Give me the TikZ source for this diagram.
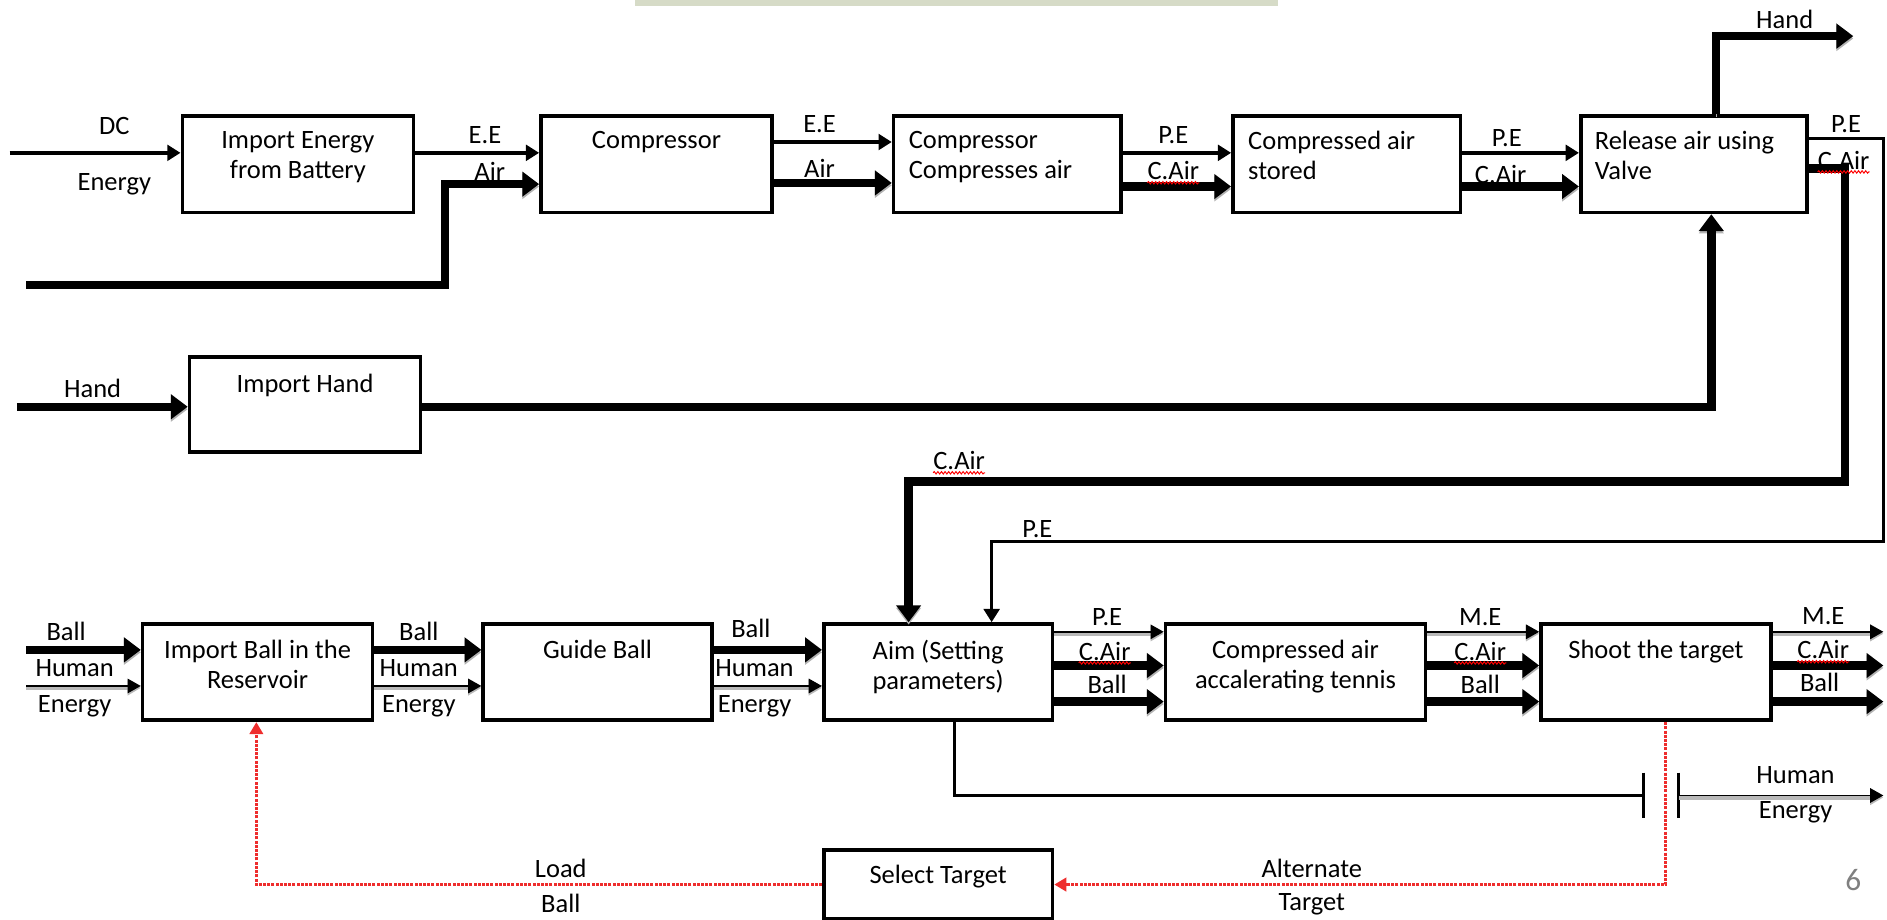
\documentclass[tikz,border=0pt]{standalone}
\usepackage{fontspec}
\setmainfont{Carlito}
\usetikzlibrary{positioning}
\usetikzlibrary{arrows.meta}
\usetikzlibrary{decorations.pathmorphing}

\definecolor{barcol}{RGB}{214,219,199}
\definecolor{loopred}{RGB}{238,45,45}

\tikzset{
	blk/.style={draw, line width=3pt, minimum width=192pt, minimum height=80pt, inner sep=0pt, anchor=north west},
	txt/.style={font=\fontsize{22}{25}\selectfont, inner sep=0pt, align=center},
	lbl/.style={font=\fontsize{22}{25}\selectfont, inner sep=0pt},
	thinarr/.style={line width=2.8pt, -{Triangle[length=11pt,width=13pt]}},
	thickarr/.style={line width=7pt, -{Triangle[length=14pt,width=20pt]},
		preaction={draw=gray!60, transform canvas={yshift=-2pt}}},
	humarr/.style={line width=1.4pt, -{Triangle[length=11pt,width=12pt]},
		preaction={draw=gray!55, line width=3.5pt, transform canvas={yshift=-1.6pt}}},
	loopline/.style={draw=loopred, line width=3pt, dash pattern=on 2.5pt off 1pt, -{Triangle[length=10pt,width=11pt]}},
	squig/.style={draw=red, line width=0.8pt, decorate, decoration={snake, amplitude=1pt, segment length=3pt}}
}

\begin{document}
\begin{tikzpicture}[x=1pt, y=-1pt]

	\useasboundingbox (0,0) rectangle (1568,764);
	\fill[barcol] (528,0) rectangle (1062,5);

	% blocs du haut
	\node[blk] (imp) at (150,95) {};
	\node[blk] (comp) at (448,95) {};
	\node[blk, minimum width=189pt] (ccomp) at (741,95) {};
	\node[blk, minimum width=189pt] (stor) at (1023,95) {};
	\node[blk, minimum width=188pt] (valve) at (1312,95) {};
	\node[blk, minimum height=79pt] (hand) at (156,295) {};

	\node[txt, below=14pt of imp.north] (imptxt) {Import Energy\\from Battery};
	\node[txt, below=14pt of comp.north] (comptxt) {Compressor};
	\node[txt, align=left, below right=14pt and 14pt of ccomp.north west] (ccomptxt) {Compressor\\Compresses air};
	\node[txt, align=left, below right=14pt and 14pt of stor.north west] (stortxt) {Compressed air\\stored};
	\node[txt, align=left, below right=14pt and 13pt of valve.north west] (valvetxt) {Release air using\\Valve};
	\node[txt, below=16pt of hand.north] (handtxt) {Import Hand};

	% blocs du bas
	\node[blk, minimum width=191pt] (ball) at (117,517) {};
	\node[blk, minimum width=190pt] (guide) at (400,517) {};
	\node[blk, minimum width=190pt] (aim) at (683,517) {};
	\node[blk, minimum width=216pt] (accel) at (967,517) {};
	\node[blk, minimum width=191pt] (shoot) at (1279,517) {};
	\node[blk, minimum width=190pt, minimum height=57pt] (sel) at (683,705) {};

	\node[txt, below=15pt of ball.north] (balltxt) {Import Ball in the\\Reservoir};
	\node[txt, below=15pt of guide.north] (guidetxt) {Guide Ball};
	\node[txt, below=15pt of aim.north] (aimtxt) {Aim (Setting\\parameters)};
	\node[txt, below=15pt of accel.north] (acceltxt) {Compressed air\\accalerating tennis};
	\node[txt, below=15pt of shoot.north] (shoottxt) {Shoot the target};
	\node[txt, below=14pt of sel.north] (seltxt) {Select Target};

	% fleches du haut
	\coordinate (dcin) at (8,127);
	\coordinate (airin) at (22,237);
	\coordinate (handin) at (14,338);
	\coordinate (handout) at (1540,30);
	\draw[thinarr] (dcin) -- (dcin -| imp.west);
	\draw[thinarr] (imp.east |- 0,127) -- (comp.west |- 0,127);
	\draw[thickarr] (airin) -- (370,237) -- (370,153) -- (comp.west |- 0,153);
	\draw[thinarr] (comp.east |- 0,118) -- (ccomp.west |- 0,118);
	\draw[thickarr] (comp.east |- 0,152) -- (ccomp.west |- 0,152);
	\draw[thinarr] (ccomp.east |- 0,127) -- (stor.west |- 0,127);
	\draw[thickarr] (ccomp.east |- 0,155) -- (stor.west |- 0,155);
	\draw[thinarr] (stor.east |- 0,127) -- (valve.west |- 0,127);
	\draw[thickarr] (stor.east |- 0,155) -- (valve.west |- 0,155);
	\draw[thickarr] (valve.north -| 1426,0) |- (handout);
	\draw[thickarr] (handin) -- (hand.west |- handin);
	\draw[thickarr] (hand.east |- handin) -| (valve.south -| 1422,0);

	% retours vers Aim
	\draw[thinarr] (valve.east |- 0,115) -| (1565,450) -| (aim.north -| 824,0);
	\draw[thickarr] (valve.east |- 0,140) -| (1533,400) -| (aim.north -| 755,0);

	% fleches du bas
	\coordinate (ballin) at (22,540);
	\coordinate (humin) at (22,570);
	\draw[thickarr] (ballin) -- (ball.west |- ballin);
	\draw[humarr] (humin) -- (ball.west |- humin);
	\draw[thickarr] (ball.east |- ballin) -- (guide.west |- ballin);
	\draw[humarr] (ball.east |- humin) -- (guide.west |- humin);
	\draw[thickarr] (guide.east |- ballin) -- (aim.west |- ballin);
	\draw[humarr] (guide.east |- humin) -- (aim.west |- humin);

	\draw[humarr] (aim.east |- 0,525) -- (accel.west |- 0,525);
	\draw[thickarr] (aim.east |- 0,553) -- (accel.west |- 0,553);
	\draw[thickarr] (aim.east |- 0,583) -- (accel.west |- 0,583);
	\draw[humarr] (accel.east |- 0,525) -- (shoot.west |- 0,525);
	\draw[thickarr] (accel.east |- 0,553) -- (shoot.west |- 0,553);
	\draw[thickarr] (accel.east |- 0,583) -- (shoot.west |- 0,583);
	\coordinate (meout) at (1565,525);
	\coordinate (cairout) at (1565,553);
	\coordinate (ballout) at (1565,583);
	\draw[humarr] (shoot.east |- meout) -- (meout);
	\draw[thickarr] (shoot.east |- cairout) -- (cairout);
	\draw[thickarr] (shoot.east |- ballout) -- (ballout);

	% energie humaine
	\coordinate (stopa) at (1366,661);
	\coordinate (stopb) at (1395,661);
	\coordinate (humout) at (1565,661);
	\draw[line width=2.5pt] (aim.south -| 793,0) |- (stopa);
	\draw[line width=2.5pt] ([yshift=19pt]stopa) -- ([yshift=-19pt]stopa);
	\draw[line width=2.5pt] ([yshift=19pt]stopb) -- ([yshift=-19pt]stopb);
	\draw[humarr] (stopb) -- (humout);

	% boucle rouge
	\draw[loopline] (shoot.south -| 1384,0) |- (sel.east);
	\draw[loopline] (sel.west) -| (ball.south -| 213,0);

	% etiquettes
	\node[lbl] (dc) at (95,105) {DC};
	\node[lbl] (dcen) at (95,153) {Energy};
	\node[lbl] (ee1) at (403,112) {E.E};
	\node[lbl] (air1) at (407,142) {Air};
	\node[lbl] (ee2) at (681,103) {E.E};
	\node[lbl] (air2) at (681,140) {Air};
	\node[lbl] (pe1) at (975,112) {P.E};
	\node[lbl] (cair1) at (975,142) {C.Air};
	\node[lbl] (pe2) at (1252,115) {P.E};
	\node[lbl] (cair2) at (1247,145) {C.Air};
	\node[lbl] (handlbl) at (1483,16) {Hand};
	\node[lbl] (pe3) at (1534,103) {P.E};
	\node[lbl] (cair3) at (1532,133) {C.Air};
	\node[lbl] (cair4) at (797,383) {C.Air};
	\node[lbl] (pe4) at (862,440) {P.E};
	\node[lbl] (handinlbl) at (77,323) {Hand};

	\node[lbl] (ball1) at (55,525) {Ball};
	\node[lbl] (hum1) at (62,555) {Human};
	\node[lbl] (en1) at (62,587) {Energy};
	\node[lbl] (ball2) at (348,525) {Ball};
	\node[lbl] (hum2) at (348,555) {Human};
	\node[lbl] (en2) at (348,587) {Energy};
	\node[lbl] (ball3) at (624,522) {Ball};
	\node[lbl] (hum3) at (627,555) {Human};
	\node[lbl] (en3) at (627,587) {Energy};
	\node[lbl] (pe5) at (920,513) {P.E};
	\node[lbl] (cair5) at (918,541) {C.Air};
	\node[lbl] (ball4) at (920,569) {Ball};
	\node[lbl] (me1) at (1230,513) {M.E};
	\node[lbl] (cair6) at (1230,541) {C.Air};
	\node[lbl] (ball5) at (1230,569) {Ball};
	\node[lbl] (me2) at (1515,512) {M.E};
	\node[lbl] (cair7) at (1515,540) {C.Air};
	\node[lbl] (ball6) at (1512,567) {Ball};
	\node[lbl] (hum4) at (1492,644) {Human};
	\node[lbl] (en4) at (1492,675) {Energy};
	\node[lbl] (load) at (466,722) {Load};
	\node[lbl] (loadb) at (466,751) {Ball};
	\node[lbl] (alt) at (1090,722) {Alternate};
	\node[lbl] (altt) at (1090,751) {Target};
	\node[font=\fontsize{26}{30}\selectfont, text=gray, inner sep=0pt] (pgnum) at (1540,731) {6};

	% soulignements rouges
	\foreach \n in {cair1,cair3,cair4,cair5,cair6,cair7}
		\draw[squig] ([yshift=-2pt]\n.south west) -- ([yshift=-2pt]\n.south east);

\end{tikzpicture}
\end{document}
